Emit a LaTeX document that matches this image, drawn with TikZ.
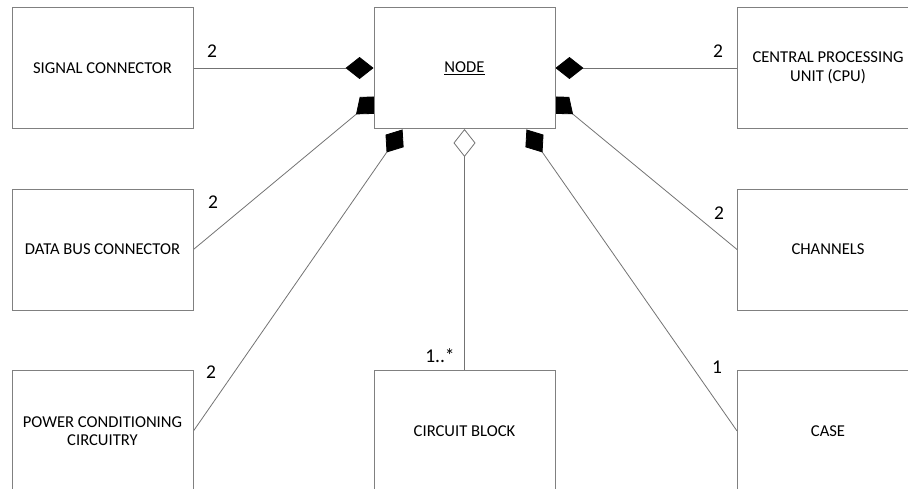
\documentclass[tikz,border=0pt]{standalone}
\usepackage{fontspec}
\setmainfont{Carlito}
\usetikzlibrary{arrows.meta,calc,backgrounds}
\begin{document}
\begin{tikzpicture}[x=1pt,y=-1pt,
  box/.style={draw=black!50,line width=0.9pt,fill=white,minimum width=181pt,minimum height=121pt,inner sep=0pt,align=center,font=\fontsize{16.6}{18.5}\selectfont},
  conn/.style={draw=black!55,line width=0.8pt},
  comp/.style={conn,-{Diamond[length=28pt,width=22pt,color=black]}},
  aggr/.style={conn,-{Diamond[open,length=28pt,width=22pt,fill=white]}},
  mult/.style={inner sep=0pt,font=\fontsize{19.5}{21}\selectfont}]
\useasboundingbox (0,0) rectangle (908,488);
\node[box] (sig) at (102.5,68) {SIGNAL CONNECTOR};
\node[box] (nd) at (464.5,68) {\underline{NODE}};
\node[box] (cpu) at (828,68) {CENTRAL PROCESSING\\UNIT (CPU)};
\node[box] (dbus) at (102.5,249.5) {DATA BUS CONNECTOR};
\node[box] (chan) at (828,249.5) {CHANNELS};
\node[box] (pwr) at (102.5,431) {POWER CONDITIONING\\CIRCUITRY};
\node[box] (circ) at (464.5,431) {CIRCUIT BLOCK};
\node[box] (case) at (828,431) {CASE};
\coordinate (tdb) at ($(nd.south west)+(4,-32.5)$);
\coordinate (tch) at ($(nd.south east)+(-4,-32.5)$);
\coordinate (tpw) at ($(nd.south west)+(29,0.5)$);
\coordinate (tcs) at ($(nd.south east)+(-29,0.5)$);
\begin{pgfonlayer}{background}
\draw[comp] (sig.east) -- (nd.west);
\draw[comp] (cpu.west) -- (nd.east);
\draw[comp] (dbus.east) -- (tdb);
\draw[comp] (chan.west) -- (tch);
\draw[comp] (pwr.east) -- (tpw);
\draw[comp] (case.west) -- (tcs);
\draw[aggr] (circ.north) -- (nd.south);
\end{pgfonlayer}
\node[mult] (m1) at (212,51) {2};
\node[mult] (m2) at (718,51) {2};
\node[mult] (m3) at (213,202) {2};
\node[mult] (m4) at (719,213) {2};
\node[mult] (m5) at (211,372) {2};
\node[mult] (m6) at (440,356) {1..*};
\node[mult] (m7) at (717,367) {1};
\end{tikzpicture}
\end{document}
